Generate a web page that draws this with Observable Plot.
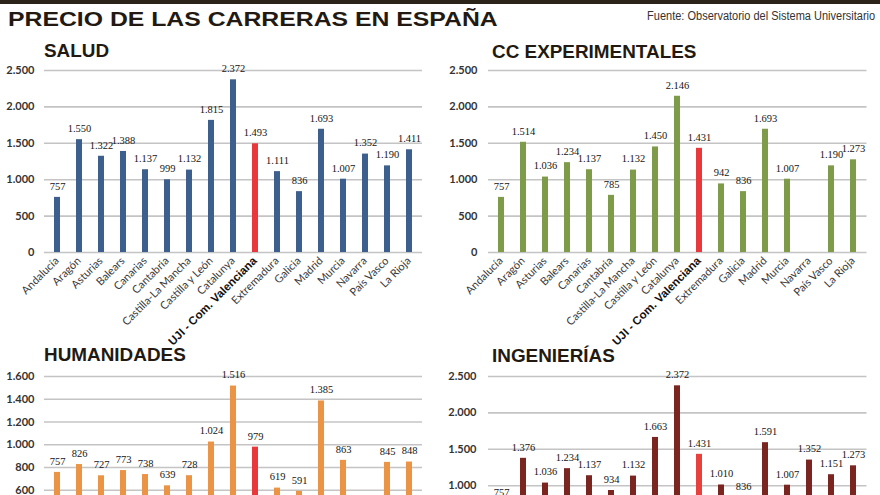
<!DOCTYPE html>
<html>
<head>
<meta charset="utf-8">
<script src="https://cdn.jsdelivr.net/npm/d3@7"></script>
<script src="https://cdn.jsdelivr.net/npm/@observablehq/plot@0.6"></script>
<style>
  html, body { margin: 0; padding: 0; background: #fff; }
  body { width: 880px; height: 495px; overflow: hidden; position: relative; }
  .abs { position: absolute; white-space: nowrap; }
  #topbar { left: 0; top: 0; width: 880px; height: 4px; background: #2d2419; }
  #title { left: 8px; top: 8px; font: 700 21px/21px "Liberation Sans", Arial, sans-serif; color: #221a12; transform: scaleX(1.18); transform-origin: left top; }
  #source { right: 5px; top: 10px; font: 400 12.5px/12.5px "Liberation Sans", sans-serif; color: #333; transform: scaleX(0.88); transform-origin: right top; }
  .sec { font: 700 18px/18px "Liberation Sans", Arial, sans-serif; color: #221a12; transform: scaleX(1.05); transform-origin: left top; }
  .panel { position: absolute; }
  .panel svg { overflow: visible; }
</style>
</head>
<body>
<div id="topbar" class="abs"></div>
<div id="title" class="abs">PRECIO DE LAS CARRERAS EN ESPAÑA</div>
<div id="source" class="abs">Fuente: Observatorio del Sistema Universitario</div>
<div class="abs sec" style="left:44px; top:42px;">SALUD</div>
<div class="abs sec" style="left:492px; top:43px;">CC EXPERIMENTALES</div>
<div class="abs sec" style="left:44px; top:346px;">HUMANIDADES</div>
<div class="abs sec" style="left:492px; top:347px;">INGENIERÍAS</div>
<div id="p1" class="panel" style="left:0px; top:60px;"></div>
<div id="p2" class="panel" style="left:440px; top:60px;"></div>
<div id="p3" class="panel" style="left:0px; top:366px;"></div>
<div id="p4" class="panel" style="left:440px; top:366px;"></div>
<script>
// ---- data ----
const regions = ["Andalucía", "Aragón", "Asturias", "Balears", "Canarias", "Cantabria", "Castilla-La Mancha", "Castilla y León", "Catalunya", "UJI - Com. Valenciana", "Extremadura", "Galicia", "Madrid", "Murcia", "Navarra", "País Vasco", "La Rioja"];
const highlightRegion = "UJI - Com. Valenciana";
const salud = [757, 1550, 1322, 1388, 1137, 999, 1132, 1815, 2372, 1493, 1111, 836, 1693, 1007, 1352, 1190, 1411];
const ccExperimentales = [757, 1514, 1036, 1234, 1137, 785, 1132, 1450, 2146, 1431, 942, 836, 1693, 1007, null, 1190, 1273];
const humanidades = [757, 826, 727, 773, 738, 639, 728, 1024, 1516, 979, 619, 591, 1385, 863, null, 845, 848];
const ingenierias = [757, 1376, 1036, 1234, 1137, 934, 1132, 1663, 2372, 1431, 1010, 836, 1591, 1007, 1352, 1151, 1273];
const ticksBig = [0, 500, 1000, 1500, 2000, 2500];
const ticksHum = [0, 200, 400, 600, 800, 1000, 1200, 1400, 1600];

const locale = d3.formatLocale({decimal: ",", thousands: ".", grouping: [3], currency: ["", "€"]});
const fmt = locale.format(",");

function panel(el, values, color, hiColor, domain, ticks, mLeft, mRight, tickPad) {
  const rows = regions.map((r, i) => ({region: r, value: values[i]}));
  const withVal = rows.filter(d => d.value != null);
  const chart = Plot.plot({
    width: 440,
    height: 290,
    marginTop: 10,
    marginBottom: 98,
    marginLeft: mLeft,
    marginRight: mRight,
    style: {fontFamily: "Lato, sans-serif", fontSize: "11px", fontWeight: 700, color: "#333", background: "transparent", overflow: "visible"},
    x: {domain: regions, paddingInner: 0.72, paddingOuter: 0.36, axis: null},
    y: {domain, ticks, tickSize: 0, tickPadding: tickPad, tickFormat: fmt, label: null},
    marks: [
      Plot.ruleY(ticks, {stroke: "#c4c4c4", strokeWidth: 1.6}),
      Plot.barY(withVal, {x: "region", y: "value", fill: d => d.region === highlightRegion ? hiColor : color}),
      Plot.text(withVal, {x: "region", y: "value", text: d => fmt(d.value), dy: -11, fontFamily: "Liberation Serif, serif", fontSize: 10.5, fontWeight: 400, fill: "#151515"}),
      Plot.text(regions.filter(r => r !== highlightRegion), {x: d => d, frameAnchor: "bottom", rotate: -45, textAnchor: "end", dx: 2, dy: 9, fontFamily: "Lato, sans-serif", fontSize: 11, fontWeight: 400, fill: "#3a3a3a"}),
      Plot.text([highlightRegion], {x: d => d, frameAnchor: "bottom", rotate: -45, textAnchor: "end", dx: 2, dy: 9, fontFamily: "Liberation Sans Narrow, Liberation Sans, sans-serif", fontSize: 11.5, fontWeight: 700, fill: "#111"})
    ]
  });
  document.getElementById(el).appendChild(chart);
}

panel("p1", salud, "#3d5f8d", "#e8383b", [0, 2500], ticksBig, 44, 18, 10);
panel("p2", ccExperimentales, "#7d9b48", "#e8383b", [0, 2500], ticksBig, 48, 13.5, 11);
panel("p3", humanidades, "#ec9446", "#e8383b", [0, 1600], ticksHum, 44, 18, 10);
panel("p4", ingenierias, "#7b2521", "#e8403c", [0, 2500], ticksBig, 48, 13.5, 12);
</script>
</body>
</html>
